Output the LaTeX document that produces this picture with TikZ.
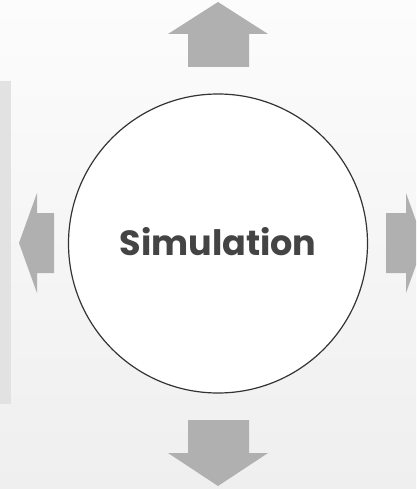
\documentclass[tikz,border=0pt]{standalone}
\usepackage{fontspec}
\usepackage{xcolor}
\newfontfamily\simfont{Poppins}
\definecolor{bgtop}{HTML}{FCFCFC}
\definecolor{bgbottom}{HTML}{EFEFEF}
\definecolor{panelgray}{HTML}{E2E2E2}
\definecolor{arrowgray}{HTML}{B0B0B0}
\definecolor{ringgray}{HTML}{333333}
\definecolor{textgray}{HTML}{444444}

\begin{document}
\begin{tikzpicture}[x=1pt,y=-1pt]
    \useasboundingbox (0,0) rectangle (416,489);
    \clip (0,0) rectangle (416,489);
    \shade [top color=bgtop, bottom color=bgbottom] (0,0) rectangle (416,489);
    \fill [panelgray] (0,81) rectangle (11,404);
    \fill [arrowgray] (218,2)--(268,34)--(249,34)--(249,67)--(188,67)--(188,34)--(168,34)--cycle;
    \fill [arrowgray] (218,486)--(268,453)--(249,453)--(249,420)--(188,420)--(188,453)--(168,453)--cycle;
    \fill [arrowgray] (19,243)--(37,193)--(37,213)--(54,213)--(54,273)--(37,273)--(37,293)--cycle;
    \fill [arrowgray] (424,243)--(406,193)--(406,213)--(386,213)--(386,273)--(406,273)--(406,293)--cycle;
    \node[circle,draw=ringgray,line width=1.2pt,fill=white,minimum size=299pt,inner sep=0pt] (sim) at (218,243.5) {};
    \node[text=textgray,font=\simfont\bfseries\fontsize{35}{40}\selectfont] (simlabel) at (218,242) {Simulation};
\end{tikzpicture}
\end{document}
